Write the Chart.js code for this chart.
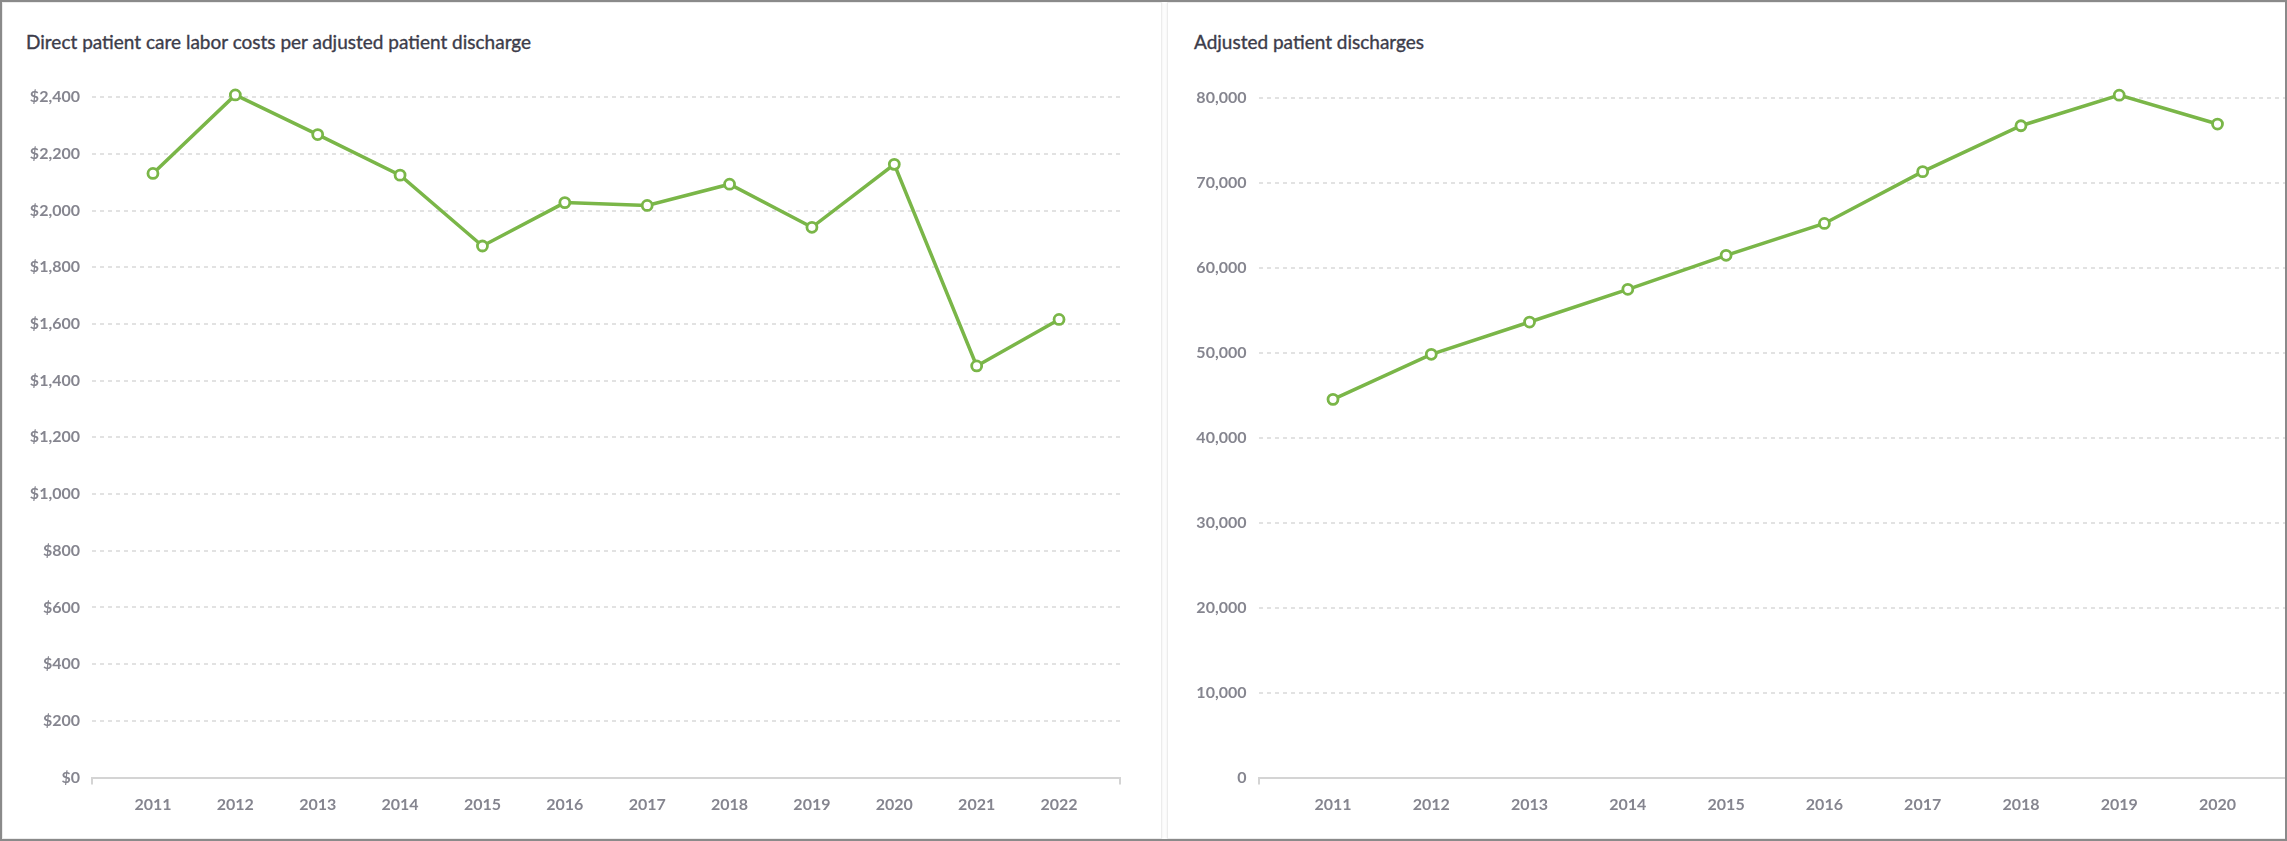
<!DOCTYPE html>
<html>
<head>
<meta charset="utf-8">
<script src="https://cdn.jsdelivr.net/npm/chart.js@4.4.0/dist/chart.umd.min.js"></script>
<style>
  body { margin: 0; background: #fff; overflow: hidden; width: 2287px; height: 841px; position: relative; font-family: Lato, sans-serif; }
  .card { position: absolute; top: 2px; bottom: 2px; background: #fff; border: 1px solid #ececec; box-shadow: 0 0 3px rgba(0,0,0,0.08); }
  .title { position: absolute; top: 30px; font-size: 19px; color: #3c3c4a; white-space: nowrap; -webkit-text-stroke: 0.35px #3c3c4a; }
  canvas { position: absolute; top: 0; }
  .frame { position: absolute; left: 0; top: 0; width: 2287px; height: 841px; box-sizing: border-box; border: 2px solid #8a8a8a; pointer-events: none; }
</style>
</head>
<body>
<div class="card" style="left:2px; width:1158px;"></div>
<div class="card" style="left:1167px; width:1125px;"></div>
<div class="title" style="left:26px;">Direct patient care labor costs per adjusted patient discharge</div>
<div class="title" style="left:1194px;">Adjusted patient discharges</div>
<div style="position:absolute;left:0;top:0;width:1162px;height:841px;"><canvas id="costChart"></canvas></div>
<div style="position:absolute;left:1170px;top:0;width:1133px;height:841px;"><canvas id="dischargeChart"></canvas></div>
<div class="frame"></div>

<script>
// left chart data
const costYears = [2011, 2012, 2013, 2014, 2015, 2016, 2017, 2018, 2019, 2020, 2021, 2022];
const costValues = [2131, 2408, 2268, 2125, 1875, 2028, 2018, 2093, 1941, 2163, 1452, 1616];
const costTicks = [0, 200, 400, 600, 800, 1000, 1200, 1400, 1600, 1800, 2000, 2200, 2400];

// right chart data
const dischargeYears = [2011, 2012, 2013, 2014, 2015, 2016, 2017, 2018, 2019, 2020];
const dischargeValues = [44500, 49800, 53600, 57450, 61450, 65200, 71300, 76700, 80300, 76900];
const dischargeTicks = [0, 10000, 20000, 30000, 40000, 50000, 60000, 70000, 80000];

const green = '#7ab648';
const tickGray = '#85858f';

function makeChart(id, years, values, yTicks, cfg) {
  const ctx = document.getElementById(id).getContext('2d');
  return new Chart(ctx, {
    type: 'line',
    data: {
      datasets: [{
        data: years.map((yr, i) => ({ x: yr, y: values[i] })),
        borderColor: green,
        borderWidth: 3.5,
        backgroundColor: '#fff',
        pointRadius: 5,
        pointBorderWidth: 2.8,
        pointBackgroundColor: '#fff',
        pointBorderColor: green,
        tension: 0,
        fill: false
      }]
    },
    options: {
      responsive: true,
      maintainAspectRatio: false,
      animation: false,
      layout: { padding: { top: cfg.top, right: cfg.right, left: 0, bottom: 0 } },
      plugins: { legend: { display: false }, tooltip: { enabled: false } },
      scales: {
        x: {
          type: 'linear',
          min: cfg.xMin,
          max: cfg.xMax,
          afterBuildTicks: s => {
            s.ticks = [{ value: cfg.xMin }].concat(years.map(v => ({ value: v })), [{ value: cfg.xMax }]);
          },
          afterFit: s => { s.height = 63.5; },
          grid: {
            drawOnChartArea: false,
            drawTicks: true,
            tickLength: 7,
            lineWidth: 2,
            color: c => (c.index === 0 || (cfg.endTick && c.index === years.length + 1)) ? '#d4d4d4' : 'rgba(0,0,0,0)'
          },
          border: { display: true, color: '#d4d4d4', width: 2 },
          ticks: {
            autoSkip: false,
            maxRotation: 0,
            padding: 11,
            color: tickGray,
            font: { family: 'Lato', size: 16, weight: 'bold' },
            callback: v => Number.isInteger(v) ? String(v) : ''
          }
        },
        y: {
          min: 0,
          max: cfg.yMax,
          afterBuildTicks: s => { s.ticks = yTicks.map(v => ({ value: v })); },
          afterFit: s => { s.width = cfg.yWidth; },
          grid: {
            drawTicks: false,
            color: '#e2e2e2',
            lineWidth: 2
          },
          border: { display: false, dash: [4, 4] },
          ticks: {
            padding: 12,
            color: tickGray,
            font: { family: 'Lato', size: 16, weight: 'bold' },
            callback: cfg.fmt
          }
        }
      }
    }
  });
}

makeChart('costChart', costYears, costValues, costTicks, {
  top: 83, right: 42, xMin: 2010.26, xMax: 2022.74, yMax: 2450, yWidth: 92, endTick: true,
  fmt: v => '$' + v.toLocaleString('en-US')
});

makeChart('dischargeChart', dischargeYears, dischargeValues, dischargeTicks, {
  top: 83, right: 0, xMin: 2010.242, xMax: 2020.758, yMax: 81730, yWidth: 88.5, endTick: false,
  fmt: v => v.toLocaleString('en-US')
});
</script>
</body>
</html>
